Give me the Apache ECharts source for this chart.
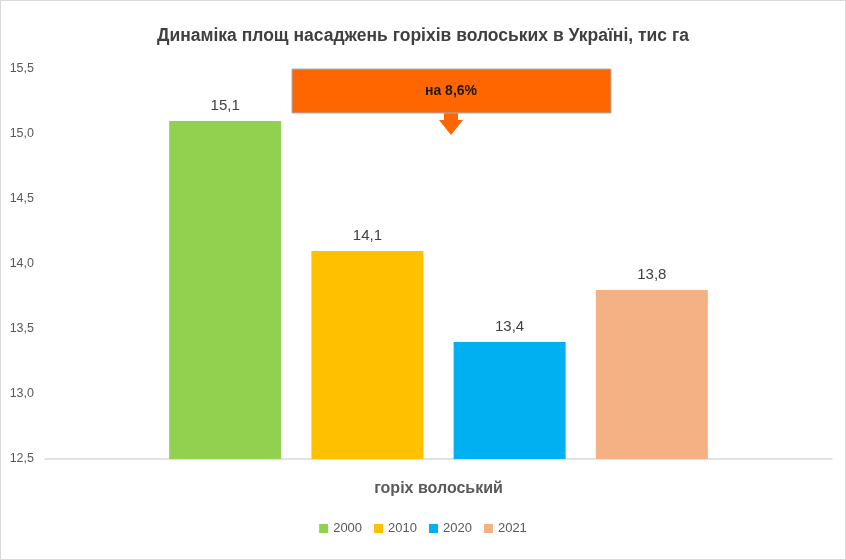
<!DOCTYPE html>
<html>
<head>
<meta charset="utf-8">
<script src="https://cdn.jsdelivr.net/npm/echarts@6/dist/echarts.min.js"></script>
<style>
  html, body { margin: 0; padding: 0; background: #fff; }
  #main { width: 844px; height: 558px; border: 1px solid #d9d9d9; }
</style>
</head>
<body>
<div id="main"></div>
<script>
// дані діаграми
var category = ['горіх волоський'];
var years = ['2000', '2010', '2020', '2021'];
var values = [15.1, 14.1, 13.4, 13.8];
var colors = ['#92D050', '#FFC000', '#00B0F0', '#F4B183'];
var calloutText = 'на 8,6%';

var font = '"Liberation Sans", sans-serif';

function comma(v) {
    return Number(v).toFixed(1).replace('.', ',');
}

var myChart = echarts.init(document.getElementById('main'));

var series = years.map(function (y, i) {
    return {
        name: y,
        type: 'bar',
        barWidth: 112,
        barGap: '27%',
        itemStyle: { color: colors[i] },
        label: {
            show: true,
            position: 'top',
            distance: 8,
            color: '#404040',
            fontFamily: font,
            fontSize: 15,
            formatter: function (p) { return comma(p.value); }
        },
        data: [values[i]]
    };
});

var option = {
    animation: false,
    title: {
        text: 'Динаміка площ насаджень горіхів волоських в Україні, тис га',
        left: 'center',
        top: 21,
        textStyle: {
            fontFamily: font,
            fontSize: 17.5,
            fontWeight: 'bold',
            color: '#404040'
        }
    },
    legend: {
        data: years,
        bottom: 19,
        left: 'center',
        itemWidth: 9,
        itemHeight: 9,
        itemGap: 12,
        itemTextGap: 4,
        icon: 'rect',
        textStyle: { fontFamily: font, fontSize: 13, color: '#595959' }
    },
    grid: { left: 44, right: 13, top: 68, bottom: 100 },
    xAxis: {
        type: 'category',
        data: category,
        axisLine: { lineStyle: { color: '#d9d9d9', width: 1.5 } },
        axisTick: { show: false },
        axisLabel: {
            margin: 22,
            fontFamily: font,
            fontSize: 16,
            fontWeight: 'bold',
            color: '#595959'
        }
    },
    yAxis: {
        type: 'value',
        min: 12.5,
        max: 15.5,
        interval: 0.5,
        splitLine: { show: false },
        axisLine: { show: false },
        axisTick: { show: false },
        axisLabel: {
            margin: 11,
            fontFamily: font,
            fontSize: 12.5,
            color: '#595959',
            formatter: comma
        }
    },
    graphic: [
        {
            type: 'polygon',
            shape: { points: [[443, 111], [457, 111], [457, 119], [462, 119], [450, 134], [438, 119], [443, 119]] },
            style: { fill: '#FF6600' }
        },
        {
            type: 'rect',
            shape: { x: 291, y: 68, width: 319, height: 44 },
            style: { fill: '#FF6600', stroke: '#9fb3c8', lineWidth: 1 }
        },
        {
            type: 'text',
            x: 450,
            y: 90,
            style: {
                text: calloutText,
                align: 'center',
                verticalAlign: 'middle',
                fill: '#1a1a1a',
                font: 'bold 14px ' + font
            }
        }
    ],
    series: series
};

myChart.setOption(option);
</script>
</body>
</html>
